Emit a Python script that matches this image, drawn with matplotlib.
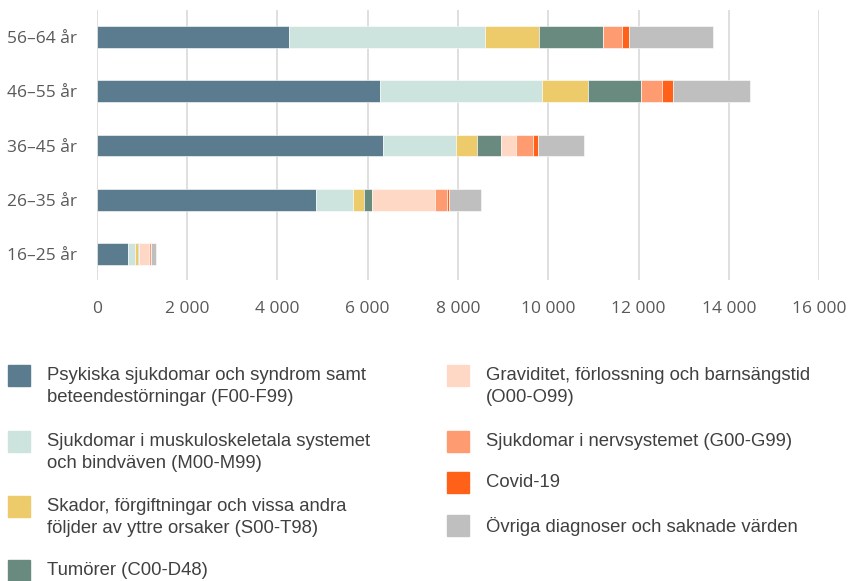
import matplotlib.pyplot as plt
from matplotlib.patches import Rectangle
import numpy as np

# Antal sjukfall per åldersgrupp och diagnosgrupp
age_groups = ["16–25 år", "26–35 år", "36–45 år", "46–55 år", "56–64 år"]

psykiska = [700, 4855, 6340, 6270, 4250]
muskulo = [150, 810, 1610, 3590, 4350]
skador = [60, 260, 470, 1020, 1200]
tumorer = [30, 170, 520, 1180, 1420]
graviditet = [220, 1390, 350, 0, 0]
nerv = [35, 260, 370, 450, 410]
covid = [10, 50, 110, 250, 160]
ovriga = [110, 710, 1010, 1700, 1850]

series = [psykiska, muskulo, skador, tumorer, graviditet, nerv, covid, ovriga]
labels = [
    "Psykiska sjukdomar och syndrom samt\nbeteendestörningar (F00-F99)",
    "Sjukdomar i muskuloskeletala systemet\noch bindväven (M00-M99)",
    "Skador, förgiftningar och vissa andra\nföljder av yttre orsaker (S00-T98)",
    "Tumörer (C00-D48)",
    "Graviditet, förlossning och barnsängstid\n(O00-O99)",
    "Sjukdomar i nervsystemet (G00-G99)",
    "Covid-19",
    "Övriga diagnoser och saknade värden",
]
colors = ["#5B7C8F", "#CDE3DD", "#EDCB6A", "#698A7E",
          "#FFD7C5", "#FF9B70", "#FF6118", "#BFBFBF"]

W, H = 849, 581
fig = plt.figure(figsize=(W / 100, H / 100), dpi=100)
ax = fig.add_axes([96.7 / W, (H - 280) / H, (819.4 - 96.7) / W, 270 / H])

y = np.arange(len(age_groups))
left = np.zeros(len(age_groups))
for vals, col in zip(series, colors):
    ax.barh(y, vals, left=left, height=0.4, color=col,
            edgecolor="white", linewidth=0.4)
    left += np.array(vals)

ax.set_xlim(0, 16000)
ax.set_ylim(-0.48, 4.5)
ax.set_xticks(range(0, 16001, 2000))
ax.set_xticklabels([f"{v:,}".replace(",", " ") for v in range(0, 16001, 2000)])
ax.set_yticks(y)
ax.set_yticklabels(age_groups)
ax.tick_params(length=0, labelsize=12.5, labelcolor="#595959", pad=14)
ax.tick_params(axis="x", pad=15)
for lab in ax.get_xticklabels() + ax.get_yticklabels():
    lab.set_family("Open Sans")
ax.grid(axis="x", color="#D9D9D9", linewidth=1.2)
ax.set_axisbelow(True)
for s in ax.spines.values():
    s.set_visible(False)

# Förklaring i två kolumner under diagrammet
def px(x, yy):
    return x / W, 1 - yy / H

legend_pos = [(8, 375), (8, 441), (8, 506), (8, 570),
              (447, 375), (447, 441), (447, 482), (447, 525)]
for (lx, ly), lab, col in zip(legend_pos, labels, colors):
    x0, y0 = px(lx, ly + 10.5)
    fig.add_artist(Rectangle((x0, y0), 22 / W, 21 / H, color=col,
                             transform=fig.transFigure))
    tx, ty = px(lx + 39, ly - 8)
    fig.text(tx, ty, lab, ha="left", va="top", fontsize=13.3,
             color="#404040", family="Liberation Sans", linespacing=1.42)

fig.savefig("out.png", dpi=100)
